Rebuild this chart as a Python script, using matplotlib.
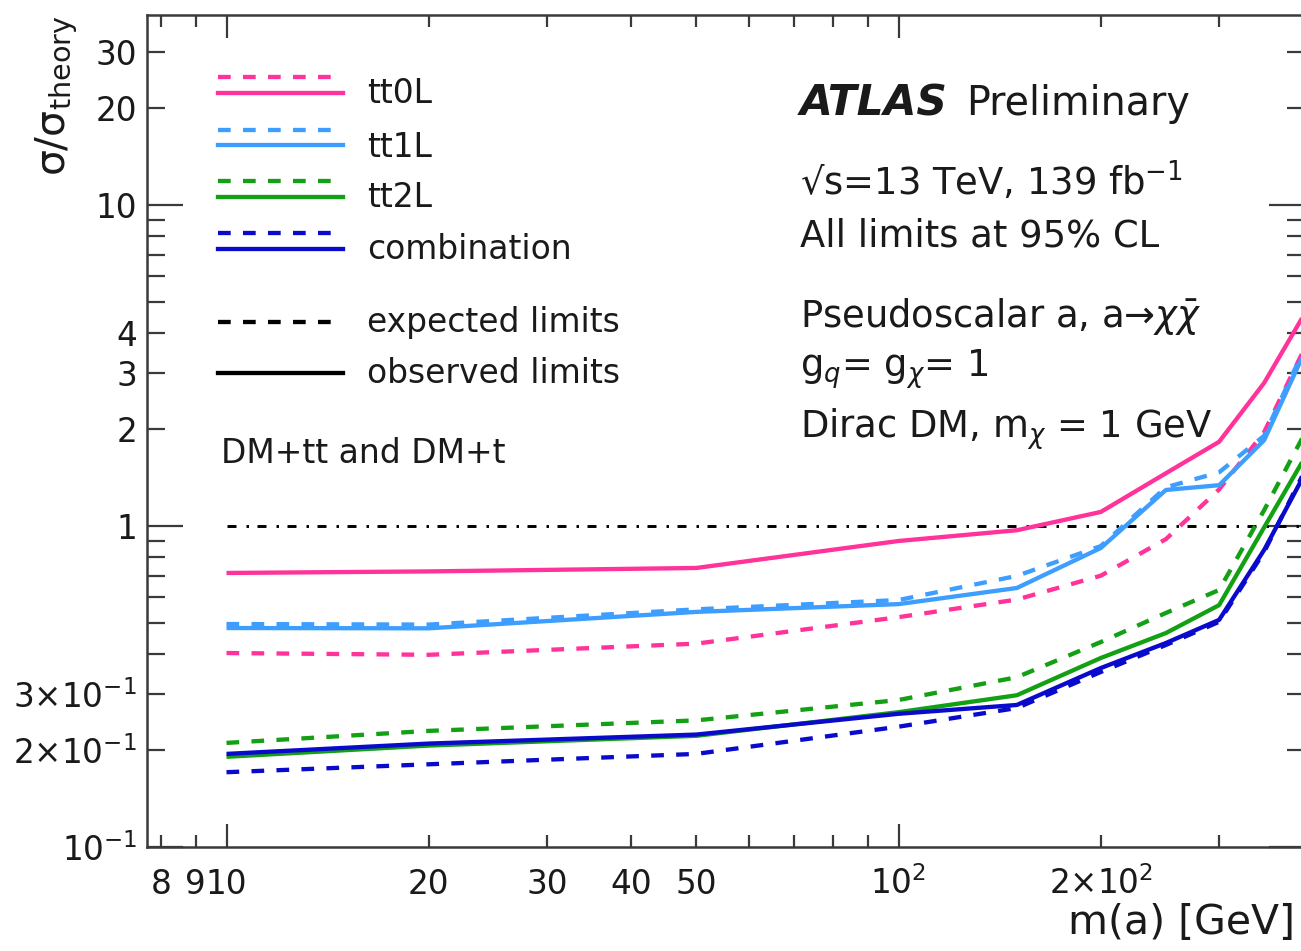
import matplotlib
matplotlib.use("Agg")
import matplotlib.pyplot as plt
from matplotlib.lines import Line2D
from matplotlib.ticker import FixedLocator, FixedFormatter, NullFormatter
import matplotlib.transforms as mtransforms

# ---------------- data ----------------
mass = [10, 20, 50, 100, 150, 200, 250, 300, 350, 400]
tt0L_exp = [0.402, 0.397, 0.43, 0.52, 0.59, 0.70, 0.91, 1.30, 1.96, 3.5]
tt0L_obs = [0.714, 0.722, 0.74, 0.898, 0.97, 1.106, 1.46, 1.83, 2.79, 4.5]
tt1L_exp = [0.495, 0.493, 0.55, 0.588, 0.699, 0.866, 1.32, 1.47, 1.91, 3.5]
tt1L_obs = [0.481, 0.48, 0.54, 0.571, 0.641, 0.854, 1.295, 1.34, 1.85, 3.4]
tt2L_exp = [0.211, 0.23, 0.248, 0.287, 0.338, 0.435, 0.536, 0.632, 1.12, 1.9]
tt2L_obs = [0.191, 0.207, 0.222, 0.263, 0.297, 0.388, 0.464, 0.567, 0.99, 1.6]
comb_exp = [0.171, 0.181, 0.195, 0.237, 0.271, 0.351, 0.426, 0.503, 0.83, 1.45]
comb_obs = [0.195, 0.21, 0.224, 0.26, 0.277, 0.361, 0.432, 0.51, 0.842, 1.42]
ref_x = [10, 400]
ref_y = [1, 1]

series_names = ["tt0L", "tt1L", "tt2L", "combination"]

xtick_major = [10, 100]
xtick_minor = [8, 9, 20, 30, 40, 50, 60, 70, 80, 90, 200, 300]
xtick_label_vals = [8, 9, 10, 20, 30, 40, 50, 100, 200]
xtick_label_txt = ["8", "9", "10", "20", "30", "40", "50", r"$10^{2}$", r"$2{\times}10^{2}$"]

ytick_major = [0.1, 1, 10]
ytick_minor = [0.2, 0.3, 0.4, 0.5, 0.6, 0.7, 0.8, 0.9, 2, 3, 4, 5, 6, 7, 8, 9, 20, 30]
ytick_major_txt = [r"$10^{-1}$", "1", "10"]
ytick_minor_txt = [r"$2{\times}10^{-1}$", r"$3{\times}10^{-1}$", "", "", "", "", "", "",
                   "2", "3", "4", "", "", "", "", "", "20", "30"]

# ---------------- style ----------------
W, H = 1301, 951
PT = 0.72  # points per pixel at dpi 100
plt.rcParams['font.family'] = ['DejaVu Sans']
plt.rcParams['mathtext.fontset'] = 'dejavusans'
plt.rcParams['lines.scale_dashes'] = False

c_pink = '#ff3399'
c_lblue = '#3d9eff'
c_green = '#14a014'
c_blue = '#0a0acc'
colors = [c_pink, c_lblue, c_green, c_blue]
frame_col = '#3a3a3a'
txt_col = '#1a1a1a'
lw = 3.1
dash = (12.7 * PT, 12.3 * PT)

fig = plt.figure(figsize=(W / 100, H / 100), dpi=100)


def fx(px):
    return px / W


def fy(py):
    return 1 - py / H


ax_left, ax_right, ax_top, ax_bot = 147, 1305, 15, 847
ax = fig.add_axes([fx(ax_left), fy(ax_bot), fx(ax_right - ax_left), (ax_bot - ax_top) / H])
ax.set_xscale('log')
ax.set_yscale('log')
ax.set_xlim(10 ** (1 + (ax_left - 226.5) / 672), 10 ** (1 + (ax_right - 226.5) / 672))
ax.set_ylim(0.1, 10 ** ((526 - ax_top) / 321))

# reference line
ax.plot(ref_x, ref_y, color='black', lw=2.1,
        dashes=(9 * PT, 10 * PT, 2.5 * PT, 8.5 * PT))

exp_list = [tt0L_exp, tt1L_exp, tt2L_exp, comb_exp]
obs_list = [tt0L_obs, tt1L_obs, tt2L_obs, comb_obs]
for col, e, o in zip(colors, exp_list, obs_list):
    ax.plot(mass, o, color=col, lw=lw, solid_capstyle='butt')
    ax.plot(mass, e, color=col, lw=lw, dashes=dash, dash_capstyle='butt')

# ticks
ax.xaxis.set_major_locator(FixedLocator(xtick_major))
ax.xaxis.set_minor_locator(FixedLocator(xtick_minor))
ax.xaxis.set_major_formatter(NullFormatter())
ax.xaxis.set_minor_formatter(NullFormatter())
ax.yaxis.set_major_locator(FixedLocator(ytick_major))
ax.yaxis.set_minor_locator(FixedLocator(ytick_minor))
ax.yaxis.set_major_formatter(FixedFormatter(ytick_major_txt))
ax.yaxis.set_minor_formatter(FixedFormatter(ytick_minor_txt))

ax.tick_params(which='both', direction='in', top=True, right=True,
               color=frame_col, width=1.6, labelsize=23.5, labelcolor=txt_col)
ax.tick_params(axis='y', which='major', length=36 * PT, pad=10 * PT)
ax.tick_params(axis='y', which='minor', length=18 * PT, pad=10 * PT)
ax.tick_params(axis='x', which='major', length=23 * PT)
ax.tick_params(axis='x', which='minor', length=12 * PT)
for s in ax.spines.values():
    s.set_color(frame_col)
    s.set_linewidth(1.8)

# x tick labels (baseline aligned)
trans = mtransforms.blended_transform_factory(ax.transData, fig.transFigure)
for v, t in zip(xtick_label_vals, xtick_label_txt):
    ax.text(v, fy(894), t, transform=trans, ha='center', va='baseline',
            fontsize=23.5, color=txt_col)

# axis titles
fig.text(fx(1068), fy(934), "m(a) [GeV]", ha='left', va='baseline', fontsize=29.5,
         color=txt_col)
fig.text(fx(57), fy(15), "σ/σ$_{\\mathrm{theory}}$", rotation=90, ha='center', va='top',
         fontsize=29.5, color=txt_col)

# legend (manual, ROOT style)
leg_x0, leg_x1, leg_tx = 218, 343, 367
leg_rows = [(76.7, 92.7, 103.3), (130, 145, 156.7), (181, 196.7, 206.7), (232.7, 249, 259.3)]
for name, col, (yd, ys, yt) in zip(series_names, colors, leg_rows):
    fig.add_artist(Line2D([fx(leg_x0), fx(leg_x1)], [fy(yd), fy(yd)], color=col, lw=lw,
                          dashes=dash, transform=fig.transFigure))
    fig.add_artist(Line2D([fx(leg_x0), fx(leg_x1)], [fy(ys), fy(ys)], color=col, lw=lw,
                          transform=fig.transFigure))
    fig.text(fx(leg_tx), fy(yt), name, ha='left', va='baseline', fontsize=23.7, color=txt_col)

fig.add_artist(Line2D([fx(leg_x0), fx(leg_x1)], [fy(321.7), fy(321.7)], color='black', lw=lw,
                      dashes=dash, transform=fig.transFigure))
fig.text(fx(leg_tx), fy(331.7), "expected limits", ha='left', va='baseline', fontsize=23.7,
         color=txt_col)
fig.add_artist(Line2D([fx(leg_x0), fx(leg_x1)], [fy(372.7), fy(372.7)], color='black', lw=lw,
                      transform=fig.transFigure))
fig.text(fx(leg_tx), fy(383.3), "observed limits", ha='left', va='baseline', fontsize=23.7,
         color=txt_col)
fig.text(fx(221), fy(463), "DM+tt and DM+t", ha='left', va='baseline', fontsize=23.7,
         color=txt_col)

# ATLAS label block
fig.text(fx(800), fy(115), "ATLAS", ha='left', va='baseline', fontsize=30.5,
         fontweight='bold', fontstyle='italic', color=txt_col)
fig.text(fx(966), fy(115), "Preliminary", ha='left', va='baseline', fontsize=28.5,
         color=txt_col)
info = [
    (195, "√s=13 TeV, 139 fb$^{-1}$"),
    (247, "All limits at 95% CL"),
    (327, "Pseudoscalar a, a→$\\chi\\bar{\\chi}$"),
    (377, "g$_{q}$= g$_{\\chi}$= 1"),
    (438, "Dirac DM, m$_{\\chi}$ = 1 GeV"),
]
for yb, t in info:
    fig.text(fx(800), fy(yb), t, ha='left', va='baseline', fontsize=26.6, color=txt_col)

fig.savefig("out.png", dpi=100)
